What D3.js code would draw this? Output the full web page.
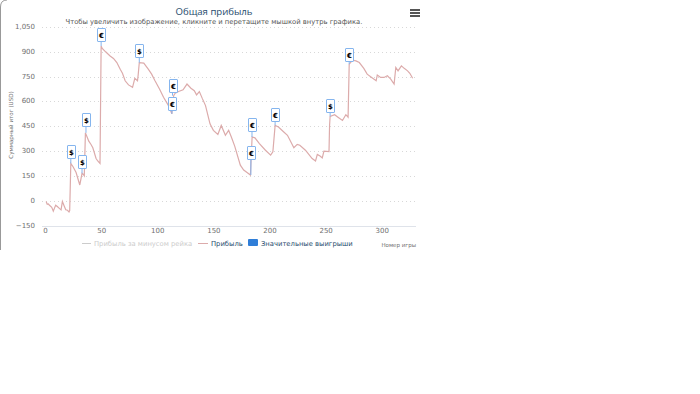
<!DOCTYPE html>
<html><head><meta charset="utf-8">
<script src="https://cdnjs.cloudflare.com/ajax/libs/d3/7.8.5/d3.min.js"></script>
<style>html,body{margin:0;padding:0;background:#fff}svg{display:block}text{font-family:"DejaVu Sans",sans-serif}</style>
</head><body><svg id="c" width="700" height="394"></svg>
<script>
const games=[1,2,3,4,6,7.4,9.5,11,13,14.3,15.5,17,18.5,20,21.4,22,23,25,27.7,29,31,33,34,35,36,37.5,39,41,42.6,45.5,47,49,50,51,54,58,61,64,67,69,71.4,74.4,78,80,82.4,83,84,88,92,95,98,102,105.6,110,113,114.6,116,119,123,126.5,130,133,135,137.5,140,143,147,150,154,157,160.7,163.6,166,169,174,177,180,183,184.5,187,191,196.4,201,203,205,208,212,216,221.7,224.7,227,232,238,241,242.6,245,247,248.5,253,253.5,254,258,261,265,268,270,271,274,277,280,284,287,291,295,296,299,302,305,308,311,312.5,314.5,317.5,320,323,325,327.5];
const profit=[-5,-22,-20,-28,-40,-63,-27,-35,-48,-55,-5,-30,-55,-58,-68,-60,225,205,170,140,95,165,160,150,410,385,360,340,320,255,240,225,935,920,900,875,860,835,795,770,725,700,685,740,725,760,835,832,795,765,725,675,625,575,525,635,650,660,670,705,680,665,640,660,620,575,465,425,400,455,395,425,385,330,215,185,170,155,385,380,345,305,275,295,455,445,420,395,320,340,335,305,255,240,280,270,258,300,297,455,510,520,505,485,520,505,825,850,845,835,800,765,745,725,760,745,745,755,735,705,805,785,815,800,785,770,740];
const yTicks=[-150,0,150,300,450,600,750,900,1050];
const xTicks=[0,50,100,150,200,250,300];
const flagGames=[23,33,36.5,50,84,113,113.6,183.4,184.4,205,254,271];
const flagValues=[225,165,410,935,835,525,635,155,385,455,510,825];
const flagTops=[145,155,113,28,44,97,79,146,118,108,99,48];
const flagLabels=["$","$","$","€","$","€","€","€","€","€","$","€"];
const legendNames=["Прибыль за минусом рейка","Прибыль","Значительные выигрыши"];

const svg=d3.select("#c");
const x=d3.scaleLinear().domain([0,330.5]).range([45,416]);
const y=d3.scaleLinear().domain([-150,1050]).range([225.5,27]);

svg.append("path").attr("d","M7,0 Q0.5,0 0.5,7 V250").attr("fill","none").attr("stroke","#999").attr("stroke-width",1);

svg.append("g").selectAll("line").data(yTicks).join("line")
 .attr("x1",42).attr("x2",416).attr("y1",d=>Math.round(y(d))+.5).attr("y2",d=>Math.round(y(d))+.5)
 .attr("stroke",d=>d===-150?"#dfe3ea":"#d8d8d8").attr("stroke-dasharray",d=>d===-150?null:"1,3").attr("stroke-width",1);

const ya=svg.append("g").attr("transform","translate(38,-0.7)").call(d3.axisLeft(y).tickValues(yTicks).tickSize(0).tickFormat(d3.format(",")));
ya.select(".domain").remove();
ya.selectAll("text").attr("font-size",7).attr("fill","#707070").attr("dx",0);

const xa=svg.append("g").attr("transform","translate(0,226.5)").call(d3.axisBottom(x).tickValues(xTicks).tickSize(0).tickPadding(2));
xa.select(".domain").remove();
xa.selectAll("text").attr("font-size",7).attr("fill","#707070");

const line=d3.line().x((d,i)=>x(games[i])).y(d=>y(d));
svg.append("path").datum(profit).attr("d",line).attr("fill","none").attr("stroke","#dcabab").attr("stroke-width",1.2);

const f=svg.append("g").selectAll("g").data(flagGames).join("g");
f.append("line").attr("x1",d=>x(d)).attr("x2",d=>x(d)).attr("y1",(d,i)=>flagTops[i]+14).attr("y2",(d,i)=>y(flagValues[i]))
 .attr("stroke","#85b5ee").attr("stroke-width",1);
f.append("rect").attr("x",d=>Math.round(x(d))-3.5).attr("y",(d,i)=>flagTops[i]+.5).attr("width",8).attr("height",13).attr("rx",.5)
 .attr("fill","#fff").attr("stroke","#85b5ee").attr("stroke-width",1);
f.append("text").attr("x",d=>Math.round(x(d))+.5).attr("y",(d,i)=>flagTops[i]+9.5).attr("text-anchor","middle")
 .attr("font-size",7).attr("font-weight","bold").attr("fill","#000").text((d,i)=>flagLabels[i]);

svg.append("text").attr("x",214).attr("y",15).attr("text-anchor","middle").style("font-family","'Open Sans'").attr("font-size",9.6).attr("fill","#274b6d").text("Общая прибыль");
svg.append("text").attr("x",214).attr("y",23.5).attr("text-anchor","middle").attr("font-size",6.8).attr("fill","#555").text("Чтобы увеличить изображение, кликните и перетащите мышкой внутрь графика.");
svg.append("text").attr("transform","translate(13,125) rotate(-90)").attr("text-anchor","middle").attr("font-size",5.6).attr("fill","#707070").text("Суммарный итог (USD)");
svg.append("text").attr("x",416).attr("y",246.5).attr("text-anchor","end").attr("font-size",5.5).attr("fill","#707070").text("Номер игры");

[10,13,16].forEach(v=>svg.append("rect").attr("x",410).attr("y",v-1).attr("width",10).attr("height",2).attr("fill","#555"));

svg.append("line").attr("x1",82).attr("x2",91).attr("y1",243.5).attr("y2",243.5).attr("stroke","#ccc");
svg.append("text").attr("x",94).attr("y",245.5).attr("font-size",6.8).attr("fill","#ccc").text(legendNames[0]);
svg.append("line").attr("x1",198).attr("x2",208).attr("y1",243.5).attr("y2",243.5).attr("stroke","#dcabab");
svg.append("text").attr("x",211).attr("y",245.5).attr("font-size",6.8).attr("fill","#274b6d").text(legendNames[1]);
svg.append("rect").attr("x",248).attr("y",239).attr("width",10).attr("height",7).attr("rx",1).attr("fill","#2f7ed8");
svg.append("text").attr("x",261).attr("y",245.5).attr("font-size",6.8).attr("fill","#274b6d").text(legendNames[2]);
</script></body></html>
